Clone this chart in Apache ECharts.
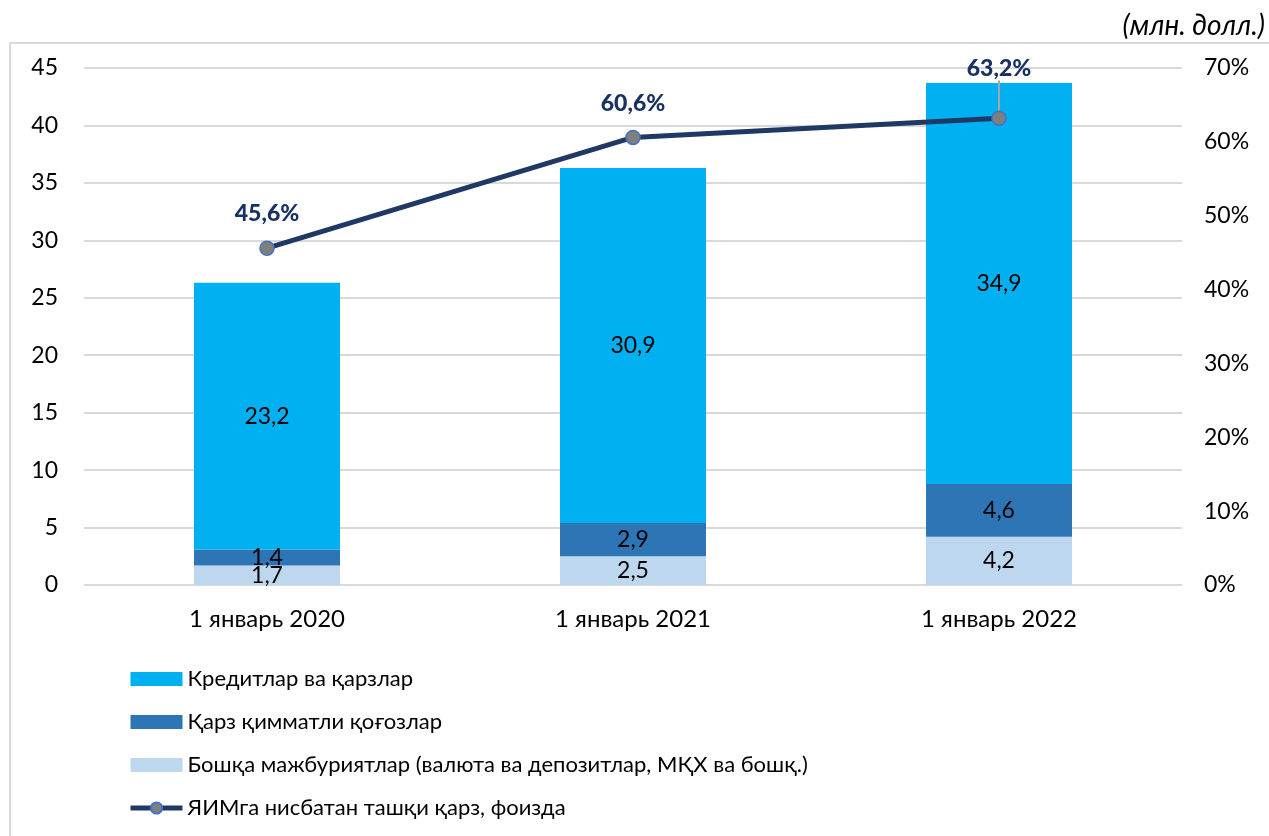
<!DOCTYPE html>
<html lang="uz">
<head>
    <meta charset="UTF-8">
    <title>tashqi qarz</title>
    <script src="https://cdn.jsdelivr.net/npm/echarts@6/dist/echarts.min.js"></script>
    <style>
        html, body { margin: 0; padding: 0; background: #fff; }
        #chart { width: 1269px; height: 836px; }
    </style>
</head>
<body>
<div id="chart"></div>
<script>
    // maʼlumotlar
    var categories = ['1 январь 2020', '1 январь 2021', '1 январь 2022'];
    var boshqa = [1.7, 2.5, 4.2];
    var qimmatli = [1.4, 2.9, 4.6];
    var kreditlar = [23.2, 30.9, 34.9];
    var yimPercent = [45.6, 60.6, 63.2];
    var seriesNames = [
        'Кредитлар ва қарзлар',
        'Қарз қимматли қоғозлар',
        'Бошқа мажбуриятлар (валюта ва депозитлар, МҚХ ва бошқ.)',
        'ЯИМга нисбатан ташқи қарз, фоизда'
    ];

    var FONT = 'Lato, "Open Sans", sans-serif';

    function comma(v) {
        return v.toFixed(1).replace('.', ',');
    }

    var myChart = echarts.init(document.getElementById('chart'));

    var barLabel = {
        show: true,
        position: 'inside',
        color: '#000',
        fontSize: 23,
        fontFamily: FONT,
        formatter: function (p) { return comma(p.value); }
    };

    myChart.setOption({
        animation: false,
        textStyle: { fontFamily: FONT },
        graphic: [
            {
                type: 'rect',
                shape: { x: 10, y: 43, width: 1300, height: 850 },
                style: { fill: 'none', stroke: '#D9D9D9', lineWidth: 2 },
                z: -1
            },
            {
                type: 'text',
                right: 4,
                top: 12,
                style: {
                    text: '(млн. долл.)',
                    font: 'italic 28px ' + FONT,
                    fill: '#000'
                }
            }
        ],
        grid: { left: 84, right: 87, top: 68, bottom: 251 },
        legend: {
            orient: 'vertical',
            left: 123,
            top: 663,
            itemWidth: 52,
            itemHeight: 14,
            itemGap: 21,
            textStyle: { fontSize: 22, lineHeight: 22, color: '#000', fontFamily: FONT },
            data: [
                { name: seriesNames[0], icon: 'rect' },
                { name: seriesNames[1], icon: 'rect' },
                { name: seriesNames[2], icon: 'rect' },
                { name: seriesNames[3], lineStyle: { width: 5 } }
            ]
        },
        xAxis: {
            type: 'category',
            data: categories,
            axisTick: { show: false },
            axisLine: { show: false },
            axisLabel: { fontSize: 24, color: '#000', margin: 22 }
        },
        yAxis: [
            {
                type: 'value',
                min: 0, max: 45, interval: 5,
                axisLabel: { fontSize: 23, color: '#000', margin: 26 },
                splitLine: { lineStyle: { color: '#D9D9D9', width: 2 } }
            },
            {
                type: 'value',
                min: 0, max: 70, interval: 10,
                axisLabel: { fontSize: 23, color: '#000', margin: 22, formatter: '{value}%' },
                splitLine: { show: false }
            }
        ],
        series: [
            {
                name: seriesNames[2],
                type: 'bar',
                stack: 'debt',
                barWidth: 146,
                data: boshqa,
                itemStyle: { color: '#BDD7EE' },
                label: barLabel
            },
            {
                name: seriesNames[1],
                type: 'bar',
                stack: 'debt',
                data: qimmatli,
                itemStyle: { color: '#2E75B6' },
                label: barLabel
            },
            {
                name: seriesNames[0],
                type: 'bar',
                stack: 'debt',
                data: kreditlar,
                itemStyle: { color: '#00B0F0' },
                label: barLabel
            },
            {
                name: seriesNames[3],
                type: 'line',
                yAxisIndex: 1,
                data: yimPercent.map(function (v, i) {
                    if (i === 2) {
                        return { value: v, labelLine: { show: true, lineStyle: { color: '#A6A6A6', width: 2 } } };
                    }
                    return v;
                }),
                symbol: 'circle',
                symbolSize: 14,
                lineStyle: { color: '#203864', width: 5 },
                itemStyle: { color: '#7F7F7F', borderColor: '#4472C4', borderWidth: 1.5 },
                label: {
                    show: true,
                    position: 'top',
                    distance: 15,
                    color: '#1A3263',
                    fontSize: 23,
                    fontWeight: 900,
                    formatter: function (p) { return comma(p.value) + '%'; }
                },
                labelLayout: function (params) {
                    if (params.dataIndex === 2) {
                        return { dy: -15 };
                    }
                },
                z: 5
            }
        ]
    });
</script>
</body>
</html>
